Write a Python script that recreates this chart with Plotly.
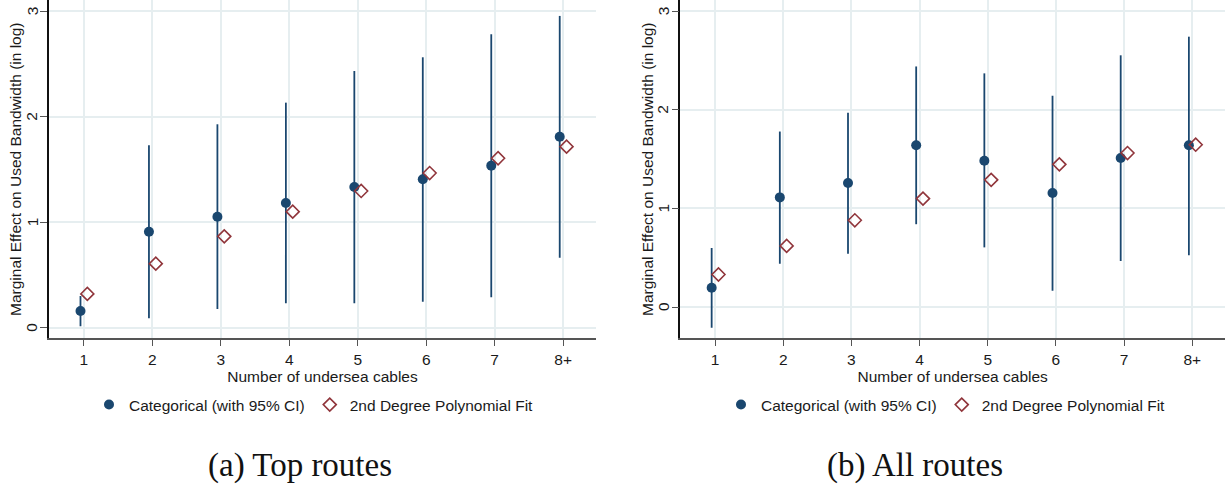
import plotly.graph_objects as go

categories = ["1", "2", "3", "4", "5", "6", "7", "8+"]
cat_pos = [1, 2, 3, 4, 5, 6, 7, 8]

# Panel (a) Top routes
top_est = [0.158, 0.91, 1.052, 1.182, 1.334, 1.407, 1.536, 1.81]
top_hi = [0.30, 1.73, 1.928, 2.133, 2.433, 2.563, 2.781, 2.955]
top_lo = [0.013, 0.089, 0.177, 0.231, 0.231, 0.246, 0.288, 0.664]
top_poly = [0.32, 0.607, 0.866, 1.10, 1.296, 1.466, 1.606, 1.716]

# Panel (b) All routes
all_est = [0.196, 1.112, 1.258, 1.64, 1.484, 1.156, 1.511, 1.64]
all_hi = [0.60, 1.78, 1.97, 2.44, 2.37, 2.143, 2.553, 2.742]
all_lo = [-0.21, 0.44, 0.54, 0.84, 0.605, 0.165, 0.467, 0.524]
all_poly = [0.33, 0.62, 0.88, 1.10, 1.29, 1.447, 1.562, 1.646]

y_ticks = [0, 1, 2, 3]
y_title = "Marginal Effect on Used Bandwidth (in log)"
x_title = "Number of undersea cables"

NAVY = "#1a476f"
MAROON = "#90353b"
GRID = "#e6eef0"
FONT = "Liberation Sans, Arial, sans-serif"
FS = 15.5

W, H = 1225, 486
fig = go.Figure()

panels = [
    dict(est=top_est, hi=top_hi, lo=top_lo, poly=top_poly, xa="x", ya="y",
         legend="legend", caption="(a) Top routes"),
    dict(est=all_est, hi=all_hi, lo=all_lo, poly=all_poly, xa="x2", ya="y2",
         legend="legend2", caption="(b) All routes"),
]

for p in panels:
    x_cat = [c - 0.05 for c in cat_pos]
    x_poly = [c + 0.05 for c in cat_pos]
    fig.add_trace(go.Scatter(
        x=x_cat, y=p["est"], mode="markers", name="Categorical (with 95% CI)",
        marker=dict(symbol="circle", size=10, color=NAVY),
        error_y=dict(type="data", symmetric=False,
                     array=[h - e for h, e in zip(p["hi"], p["est"])],
                     arrayminus=[e - l for e, l in zip(p["est"], p["lo"])],
                     color=NAVY, thickness=1.8, width=0),
        xaxis=p["xa"], yaxis=p["ya"], legend=p["legend"],
    ))
    fig.add_trace(go.Scatter(
        x=x_poly, y=p["poly"], mode="markers", name="2nd Degree Polynomial Fit",
        marker=dict(symbol="diamond-open", size=10, color=MAROON,
                    line=dict(width=1.6, color=MAROON)),
        xaxis=p["xa"], yaxis=p["ya"], legend=p["legend"],
    ))

def px_x(v):
    return v / W

def px_y(v):
    return 1 - v / H

y_bottom = px_y(337.7)

common_x = dict(
    tickmode="array", tickvals=cat_pos, ticktext=categories,
    range=[0.49, 8.48], showgrid=True, gridcolor=GRID, gridwidth=1.5,
    zeroline=False, showline=True, linecolor="#555555", linewidth=1.5,
    ticks="outside", ticklen=7, tickcolor="#555555", tickwidth=1.2,
    tickfont=dict(family=FONT, size=FS, color="#1a1a1a"),
    title=dict(text=x_title, standoff=0,
               font=dict(family=FONT, size=FS, color="#1a1a1a")),
)
common_y = dict(
    tickmode="array", tickvals=y_ticks, ticktext=[str(t) for t in y_ticks],
    showticklabels=False,
    showgrid=True, gridcolor=GRID, gridwidth=1.5, zeroline=False,
    showline=True, linecolor="#111111", linewidth=1.5,
    ticks="outside", ticklen=7, tickcolor="#555555", tickwidth=1.2,
    domain=[y_bottom, 1.0],
)

fig.update_layout(
    width=W, height=H, margin=dict(l=0, r=0, t=0, b=0),
    plot_bgcolor="white", paper_bgcolor="white", showlegend=True,
    xaxis=dict(common_x, domain=[px_x(49), px_x(596)], anchor="y"),
    yaxis=dict(common_y, range=[-0.095, 3.106], anchor="x"),
    xaxis2=dict(common_x, domain=[px_x(680.3), 1.0], anchor="y2"),
    yaxis2=dict(common_y, range=[-0.311, 3.114], anchor="x2"),
    legend=dict(orientation="h", x=px_x(314), xanchor="center",
                y=px_y(405), yanchor="middle",
                font=dict(family=FONT, size=FS, color="#1a1a1a"),
                bgcolor="rgba(0,0,0,0)", itemwidth=30, tracegroupgap=0),
    legend2=dict(orientation="h", x=px_x(946), xanchor="center",
                 y=px_y(405), yanchor="middle",
                 font=dict(family=FONT, size=FS, color="#1a1a1a"),
                 bgcolor="rgba(0,0,0,0)", itemwidth=30, tracegroupgap=0),
)

for p, cx, tx, lx, yref in zip(panels, [300, 915], [15, 647], [32, 663], ["y", "y2"]):
    fig.add_annotation(
        text=p["caption"], x=px_x(cx), y=px_y(465), xref="paper", yref="paper",
        xanchor="center", yanchor="middle", showarrow=False,
        font=dict(family="Liberation Serif, DejaVu Serif, serif", size=33,
                  color="#111111"),
    )
    fig.add_annotation(
        text=y_title, x=px_x(tx), y=px_y(169), xref="paper", yref="paper",
        xanchor="center", yanchor="middle", showarrow=False, textangle=-90,
        font=dict(family=FONT, size=FS, color="#1a1a1a"),
    )
    for t in y_ticks:
        fig.add_annotation(
            text=str(t), x=px_x(lx), y=t, xref="paper", yref=yref,
            xanchor="center", yanchor="middle", showarrow=False, textangle=-90,
            font=dict(family=FONT, size=FS, color="#1a1a1a"),
        )

fig.write_html("out.html", config={"displayModeBar": False},
               post_script="document.body.style.margin='0';document.body.style.overflow='hidden';")
